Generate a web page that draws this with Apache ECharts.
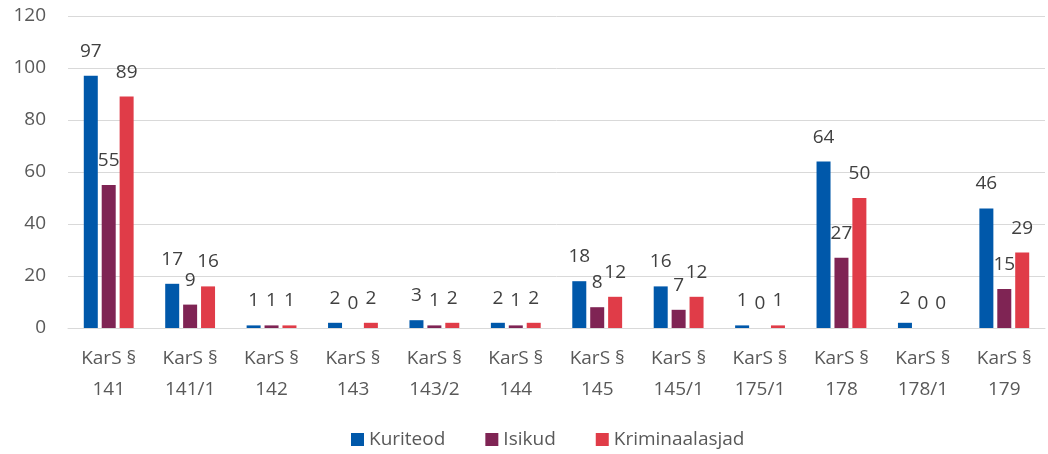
<!DOCTYPE html>
<html>
<head>
  <meta charset="utf-8">
  <title>KarS</title>
  <script src="https://cdn.jsdelivr.net/npm/echarts@6/dist/echarts.min.js"></script>
  <style>
    html, body { margin: 0; padding: 0; background: #fff; }
    #main { width: 1048px; height: 454px; }
  </style>
</head>
<body>
<div id="main"></div>
<script type="text/javascript">
  // andmed
  var categories = ['KarS §\n141', 'KarS §\n141/1', 'KarS §\n142', 'KarS §\n143', 'KarS §\n143/2', 'KarS §\n144',
                    'KarS §\n145', 'KarS §\n145/1', 'KarS §\n175/1', 'KarS §\n178', 'KarS §\n178/1', 'KarS §\n179'];
  var kuriteod = [97, 17, 1, 2, 3, 2, 18, 16, 1, 64, 2, 46];
  var isikud = [55, 9, 1, 0, 1, 1, 8, 7, 0, 27, 0, 15];
  var kriminaalasjad = [89, 16, 1, 2, 2, 2, 12, 12, 1, 50, 0, 29];
  var seriesNames = ['Kuriteod', 'Isikud', 'Kriminaalasjad'];
  var colors = ['#0058AA', '#7F2454', '#E03C48'];

  var myChart = echarts.init(document.getElementById('main'));
  var font = 'Open Sans, Noto Sans, sans-serif';

  function makeSeries(name, data, color) {
    return {
      name: name,
      type: 'bar',
      data: data,
      barWidth: 14,
      barGap: '28%',
      itemStyle: { color: color },
      label: {
        show: true,
        position: 'top',
        distance: 15,
        color: '#404040',
        fontSize: 19,
        fontFamily: font
      }
    };
  }

  myChart.setOption({
    animation: false,
    color: colors,
    textStyle: { fontFamily: font },
    grid: { left: 68, right: 3, top: 16, bottom: 126 },
    legend: {
      bottom: 0,
      left: 346,
      icon: 'rect',
      itemWidth: 13,
      itemHeight: 13,
      itemGap: 40,
      textStyle: { color: '#595959', fontSize: 19, fontFamily: font },
      data: seriesNames
    },
    xAxis: {
      type: 'category',
      data: categories,
      axisLine: { lineStyle: { color: '#d9d9d9', width: 1 } },
      axisTick: { show: false },
      axisLabel: {
        color: '#595959',
        fontSize: 19,
        lineHeight: 31,
        margin: 15,
        interval: 0,
        fontFamily: font
      }
    },
    yAxis: {
      type: 'value',
      min: 0,
      max: 120,
      interval: 20,
      axisLine: { show: false },
      axisTick: { show: false },
      splitLine: { lineStyle: { color: '#d9d9d9', width: 1 } },
      axisLabel: { color: '#595959', fontSize: 19, margin: 22, fontFamily: font }
    },
    series: [
      makeSeries(seriesNames[0], kuriteod, colors[0]),
      makeSeries(seriesNames[1], isikud, colors[1]),
      makeSeries(seriesNames[2], kriminaalasjad, colors[2])
    ]
  });
</script>
</body>
</html>
